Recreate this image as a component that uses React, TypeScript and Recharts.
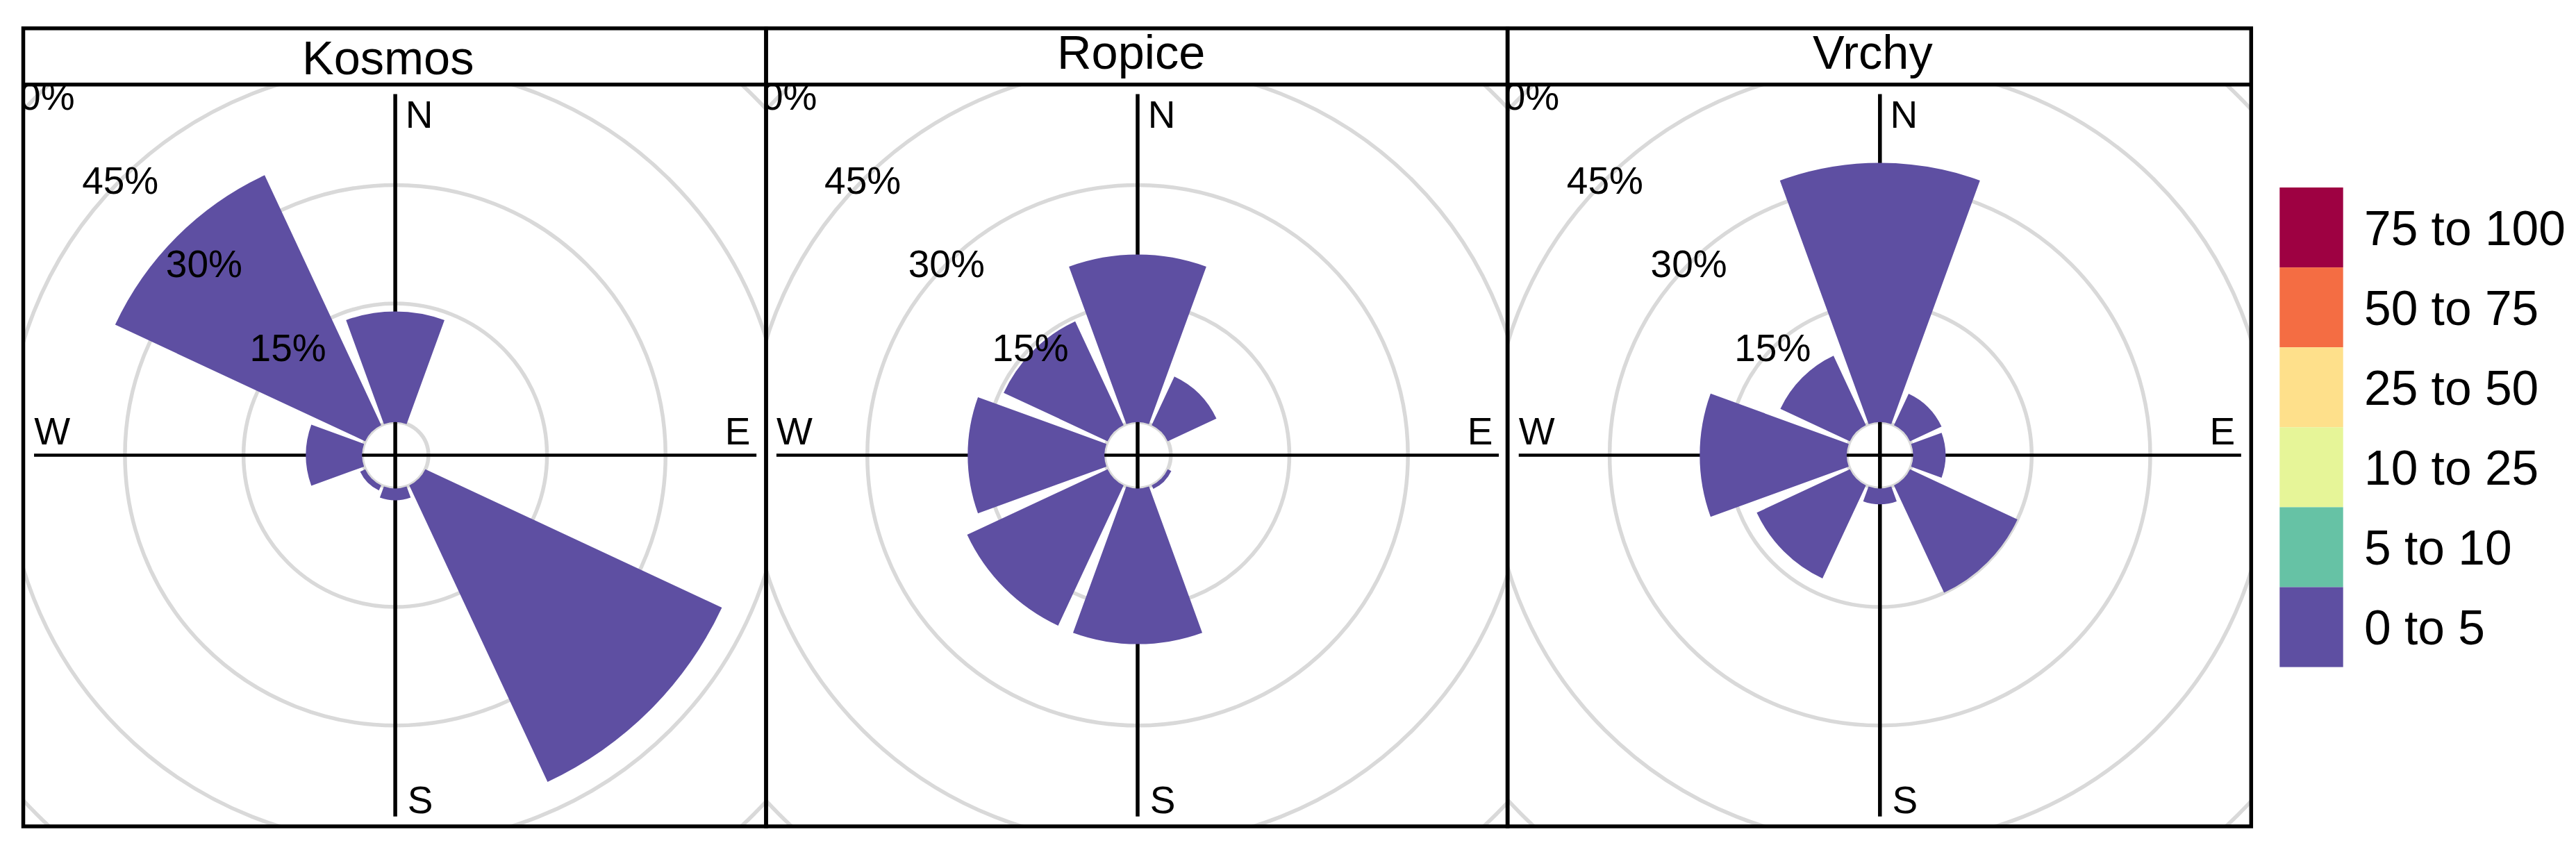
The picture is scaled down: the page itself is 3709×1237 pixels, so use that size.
import React from "react";
import { RadarChart, Radar, PolarGrid, PolarAngleAxis, PolarRadiusAxis, Sector } from "recharts";

const directions = ["N", "NE", "E", "SE", "S", "SW", "W", "NW"];
const kosmos = [14, 0, 0, 41.4, 1.5, 0.7, 7.1, 34.9];
const ropice = [21.2, 6.8, 0, 0.5, 19.7, 19.6, 17.3, 14.5];
const vrchy = [32.8, 4.4, 4.1, 15, 2, 13, 18.6, 9.7];

const radiusTicks = [0, 15, 30, 45, 60];
const legendLabels = ["75 to 100", "50 to 75", "25 to 50", "10 to 25", "5 to 10", "0 to 5"];
const legendColors = ["#9E0142", "#F46D43", "#FEE08B", "#E6F598", "#66C2A5", "#5E4FA2"];

const FONT = "'Liberation Sans', Arial, sans-serif";
const PETAL = "#5E4FA2";
const GRID = "#D9D9D9";

// radial scale: 0% sits on the hole, 15% every 170.7px
const HOLE = 47.8;
const PX_PER_PCT = 11.38;
const DOMAIN_MIN = -HOLE / PX_PER_PCT;
const OUTER = HOLE + 60 * PX_PER_PCT;
const HALF_WIDTH = 20;
// the N/E/S/W axis lines stop short of the 45% ring
const AXIS_REACH = 41.5;

const PANEL_TOP = 121.8;
const PANEL_BOTTOM = 1190;
const PANEL_H = PANEL_BOTTOM - PANEL_TOP;
const CENTER_Y = 655.4;

const panels = [
  { title: "Kosmos", values: kosmos, left: 33.5, right: 1103, cx: 568.6, titleX: 558.7, titleY: 106.5 },
  { title: "Ropice", values: ropice, left: 1103, right: 2170.6, cx: 1638, titleX: 1628.7, titleY: 98.6 },
  { title: "Vrchy", values: vrchy, left: 2170.6, right: 3241.3, cx: 2706.4, titleX: 2696.4, titleY: 98.6 },
];

const compassOffsets: Record<string, [number, number]> = {
  N: [34.5, -472],
  E: [493, -16],
  S: [36, 515],
  W: [-494, -16],
};

const Petals = ({ points }: any) => (
  <g>
    {points
      .filter((p: any) => p.value > 0)
      .map((p: any) => (
        <Sector
          key={p.angle}
          cx={p.cx}
          cy={p.cy}
          innerRadius={HOLE}
          outerRadius={p.radius}
          startAngle={p.angle + HALF_WIDTH}
          endAngle={p.angle - HALF_WIDTH}
          fill={PETAL}
          stroke="none"
        />
      ))}
  </g>
);

const AxisLines = ({ points }: any) => (
  <g>
    {points
      .filter((p: any) => compassOffsets[p.payload.dir])
      .map((p: any) => (
        <line
          key={p.angle}
          x1={p.cx}
          y1={p.cy}
          x2={p.x}
          y2={p.y}
          stroke="#000"
          strokeWidth={p.payload.dir === "N" || p.payload.dir === "S" ? 5.5 : 4.5}
        />
      ))}
  </g>
);

const RadiusTick = ({ x, y, payload }: any) => {
  if (payload.value === 0) return <g />;
  return (
    <text x={x} y={y} textAnchor="middle" dominantBaseline="central" fontSize={55} fontFamily={FONT} fill="#000">
      {payload.value}%
    </text>
  );
};

const Rose = ({ panel }: { panel: (typeof panels)[number] }) => {
  const width = panel.right - panel.left;
  const cx = panel.cx - panel.left;
  const cy = CENTER_Y - PANEL_TOP;
  const data = directions.map((dir, i) => ({ dir, freq: panel.values[i], reach: AXIS_REACH }));

  const CompassTick = ({ payload }: any) => {
    const off = compassOffsets[payload.value];
    if (!off) return <g />;
    return (
      <text x={cx + off[0]} y={cy + off[1]} textAnchor="middle" fontSize={55} fontFamily={FONT} fill="#000">
        {payload.value}
      </text>
    );
  };

  return (
    <div style={{ position: "absolute", left: panel.left, top: PANEL_TOP, width, height: PANEL_H, overflow: "hidden" }}>
      <RadarChart width={width} height={PANEL_H} data={data} cx={cx} cy={cy} innerRadius={0} outerRadius={OUTER} margin={{ top: 0, right: 0, bottom: 0, left: 0 }}>
        <PolarGrid gridType="circle" radialLines={false} polarAngles={[]} stroke={GRID} strokeWidth={5.5} />
        <Radar dataKey="reach" shape={AxisLines} dot={false} isAnimationActive={false} />
        <Radar dataKey="freq" shape={Petals} dot={false} isAnimationActive={false} />
        <PolarAngleAxis dataKey="dir" tick={CompassTick} axisLine={false} tickLine={false} />
        <PolarRadiusAxis angle={135} type="number" domain={[DOMAIN_MIN, 60]} ticks={radiusTicks} tick={RadiusTick} axisLine={false} allowDataOverflow />
      </RadarChart>
    </div>
  );
};

export default function App() {
  return (
    <div style={{ position: "absolute", left: 0, top: 0, width: 3709, height: 1237, background: "#fff" }}>
      {panels.map((p) => (
        <Rose key={p.title} panel={p} />
      ))}
      <svg width={3709} height={1237} style={{ position: "absolute", left: 0, top: 0, pointerEvents: "none" }}>
        {panels.map((p) => (
          <g key={p.title}>
            <rect x={p.left} y={40.8} width={p.right - p.left} height={PANEL_BOTTOM - 40.8} fill="none" stroke="#000" strokeWidth={5.5} />
            <line x1={p.left} x2={p.right} y1={PANEL_TOP} y2={PANEL_TOP} stroke="#000" strokeWidth={5.5} />
            <text x={p.titleX} y={p.titleY} textAnchor="middle" fontSize={68.5} fontFamily={FONT} fill="#000">
              {p.title}
            </text>
          </g>
        ))}
        {legendLabels.map((label, i) => (
          <g key={label}>
            <rect x={3282.3} y={270 + i * 115.1} width={91.4} height={115.1} fill={legendColors[i]} />
            <text x={3404} y={352.5 + i * 115} fontSize={69.5} fontFamily={FONT} fill="#000">
              {label}
            </text>
          </g>
        ))}
      </svg>
    </div>
  );
}
